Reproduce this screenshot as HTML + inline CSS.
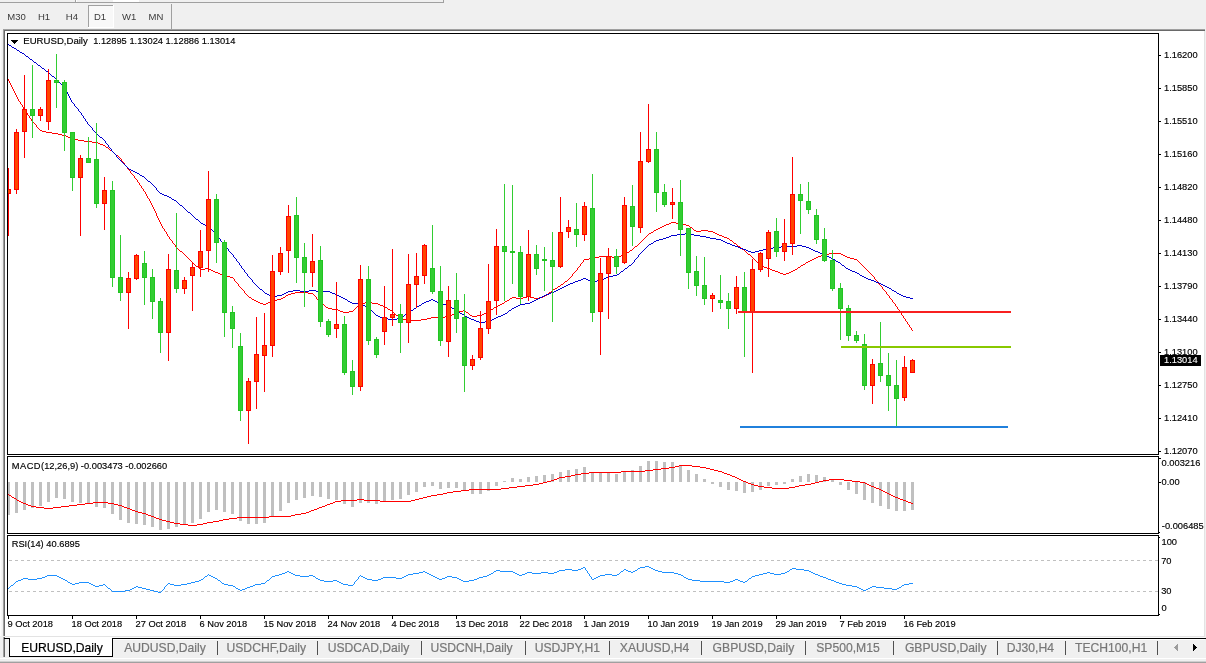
<!DOCTYPE html><html><head><meta charset="utf-8"><title>EURUSD,Daily</title><style>
html,body{margin:0;padding:0}
body{width:1206px;height:663px;overflow:hidden;background:#f0f0f0;position:relative;font-family:"Liberation Sans",sans-serif;}
.t{position:absolute;white-space:nowrap;line-height:1;color:#000;font-size:9.3px;-webkit-text-stroke:0.15px #000}
.tb{position:absolute;white-space:nowrap;line-height:1;color:#3a3a3a;font-size:9.5px;top:12px}
.ax{left:1164px}
.dt{top:620.4px}
.tab{position:absolute;white-space:nowrap;line-height:1;color:#777;font-size:12.15px;top:642.3px;-webkit-text-stroke:0.2px #777}
svg{position:absolute;left:0;top:0}

</style></head><body>
<svg width="1206" height="663" viewBox="0 0 1206 663" shape-rendering="crispEdges">
<rect x="0" y="2" width="444" height="1" fill="#a0a0a0"/>
<rect x="75" y="0" width="1" height="2" fill="#a0a0a0"/>
<rect x="76" y="0" width="1" height="2" fill="#fff"/>
<rect x="443" y="0" width="1" height="2" fill="#a0a0a0"/>
<rect x="113" y="0" width="26" height="2" fill="#fff"/>
<rect x="88" y="5" width="26" height="23" fill="#f8f8f8"/>
<rect x="88" y="5" width="25" height="1" fill="#a0a0a0"/>
<rect x="88" y="5" width="1" height="22" fill="#a0a0a0"/>
<rect x="113" y="5" width="1" height="23" fill="#fff"/>
<rect x="88" y="27" width="26" height="1" fill="#fff"/>
<rect x="171" y="4" width="1" height="25" fill="#a0a0a0"/>
<rect x="0" y="30" width="1" height="633" fill="#fcfcfc"/>
<rect x="1" y="30" width="1" height="633" fill="#f5f5f5"/>
<rect x="3" y="29" width="1202" height="1" fill="#a0a0a0"/>
<rect x="4" y="30" width="1201" height="1" fill="#696969"/>
<rect x="3" y="30" width="1" height="607" fill="#a0a0a0"/>
<rect x="4" y="31" width="1" height="606" fill="#696969"/>
<rect x="5" y="31" width="1199" height="606" fill="#fff"/>
<rect x="1204" y="31" width="1" height="606" fill="#e3e3e3"/>
<rect x="1159" y="55" width="2" height="1" fill="#000"/>
<rect x="1159" y="88" width="2" height="1" fill="#000"/>
<rect x="1159" y="121" width="2" height="1" fill="#000"/>
<rect x="1159" y="154" width="2" height="1" fill="#000"/>
<rect x="1159" y="187" width="2" height="1" fill="#000"/>
<rect x="1159" y="220" width="2" height="1" fill="#000"/>
<rect x="1159" y="253" width="2" height="1" fill="#000"/>
<rect x="1159" y="286" width="2" height="1" fill="#000"/>
<rect x="1159" y="319" width="2" height="1" fill="#000"/>
<rect x="1159" y="352" width="2" height="1" fill="#000"/>
<rect x="1159" y="385" width="2" height="1" fill="#000"/>
<rect x="1159" y="418" width="2" height="1" fill="#000"/>
<rect x="1159" y="451" width="2" height="1" fill="#000"/>
<rect x="1159" y="458" width="2" height="1" fill="#000"/>
<rect x="1159" y="482" width="2" height="1" fill="#000"/>
<rect x="1159" y="532" width="1" height="1" fill="#000"/>
<rect x="1159" y="537" width="1" height="1" fill="#000"/>
<rect x="1159" y="614" width="1" height="1" fill="#000"/>
<rect x="8" y="616" width="1" height="3" fill="#000"/>
<rect x="72" y="616" width="1" height="3" fill="#000"/>
<rect x="136" y="616" width="1" height="3" fill="#000"/>
<rect x="200" y="616" width="1" height="3" fill="#000"/>
<rect x="264" y="616" width="1" height="3" fill="#000"/>
<rect x="328" y="616" width="1" height="3" fill="#000"/>
<rect x="392" y="616" width="1" height="3" fill="#000"/>
<rect x="456" y="616" width="1" height="3" fill="#000"/>
<rect x="520" y="616" width="1" height="3" fill="#000"/>
<rect x="584" y="616" width="1" height="3" fill="#000"/>
<rect x="648" y="616" width="1" height="3" fill="#000"/>
<rect x="712" y="616" width="1" height="3" fill="#000"/>
<rect x="776" y="616" width="1" height="3" fill="#000"/>
<rect x="840" y="616" width="1" height="3" fill="#000"/>
<rect x="904" y="616" width="1" height="3" fill="#000"/>
<line x1="9" y1="560.5" x2="1158" y2="560.5" stroke="#c0c0c0" stroke-width="1" stroke-dasharray="3 3"/>
<line x1="9" y1="591.5" x2="1158" y2="591.5" stroke="#c0c0c0" stroke-width="1" stroke-dasharray="3 3"/>
<rect x="7" y="482" width="3" height="33" fill="#c0c0c0"/>
<rect x="15" y="482" width="3" height="31" fill="#c0c0c0"/>
<rect x="23" y="482" width="3" height="28" fill="#c0c0c0"/>
<rect x="31" y="482" width="3" height="26" fill="#c0c0c0"/>
<rect x="39" y="482" width="3" height="24" fill="#c0c0c0"/>
<rect x="47" y="482" width="3" height="20" fill="#c0c0c0"/>
<rect x="55" y="482" width="3" height="16" fill="#c0c0c0"/>
<rect x="63" y="482" width="3" height="17" fill="#c0c0c0"/>
<rect x="71" y="482" width="3" height="20" fill="#c0c0c0"/>
<rect x="79" y="482" width="3" height="21" fill="#c0c0c0"/>
<rect x="87" y="482" width="3" height="22" fill="#c0c0c0"/>
<rect x="95" y="482" width="3" height="25" fill="#c0c0c0"/>
<rect x="103" y="482" width="3" height="26" fill="#c0c0c0"/>
<rect x="111" y="482" width="3" height="32" fill="#c0c0c0"/>
<rect x="119" y="482" width="3" height="38" fill="#c0c0c0"/>
<rect x="127" y="482" width="3" height="41" fill="#c0c0c0"/>
<rect x="135" y="482" width="3" height="42" fill="#c0c0c0"/>
<rect x="143" y="482" width="3" height="43" fill="#c0c0c0"/>
<rect x="151" y="482" width="3" height="45" fill="#c0c0c0"/>
<rect x="159" y="482" width="3" height="48" fill="#c0c0c0"/>
<rect x="167" y="482" width="3" height="47" fill="#c0c0c0"/>
<rect x="175" y="482" width="3" height="45" fill="#c0c0c0"/>
<rect x="183" y="482" width="3" height="43" fill="#c0c0c0"/>
<rect x="191" y="482" width="3" height="41" fill="#c0c0c0"/>
<rect x="199" y="482" width="3" height="37" fill="#c0c0c0"/>
<rect x="207" y="482" width="3" height="30" fill="#c0c0c0"/>
<rect x="215" y="482" width="3" height="28" fill="#c0c0c0"/>
<rect x="223" y="482" width="3" height="30" fill="#c0c0c0"/>
<rect x="231" y="482" width="3" height="32" fill="#c0c0c0"/>
<rect x="239" y="482" width="3" height="39" fill="#c0c0c0"/>
<rect x="247" y="482" width="3" height="42" fill="#c0c0c0"/>
<rect x="255" y="482" width="3" height="42" fill="#c0c0c0"/>
<rect x="263" y="482" width="3" height="41" fill="#c0c0c0"/>
<rect x="271" y="482" width="3" height="34" fill="#c0c0c0"/>
<rect x="279" y="482" width="3" height="29" fill="#c0c0c0"/>
<rect x="287" y="482" width="3" height="21" fill="#c0c0c0"/>
<rect x="295" y="482" width="3" height="18" fill="#c0c0c0"/>
<rect x="303" y="482" width="3" height="16" fill="#c0c0c0"/>
<rect x="311" y="482" width="3" height="14" fill="#c0c0c0"/>
<rect x="319" y="482" width="3" height="15" fill="#c0c0c0"/>
<rect x="327" y="482" width="3" height="17" fill="#c0c0c0"/>
<rect x="335" y="482" width="3" height="18" fill="#c0c0c0"/>
<rect x="343" y="482" width="3" height="22" fill="#c0c0c0"/>
<rect x="351" y="482" width="3" height="25" fill="#c0c0c0"/>
<rect x="359" y="482" width="3" height="21" fill="#c0c0c0"/>
<rect x="367" y="482" width="3" height="21" fill="#c0c0c0"/>
<rect x="375" y="482" width="3" height="22" fill="#c0c0c0"/>
<rect x="383" y="482" width="3" height="19" fill="#c0c0c0"/>
<rect x="391" y="482" width="3" height="18" fill="#c0c0c0"/>
<rect x="399" y="482" width="3" height="17" fill="#c0c0c0"/>
<rect x="407" y="482" width="3" height="13" fill="#c0c0c0"/>
<rect x="415" y="482" width="3" height="10" fill="#c0c0c0"/>
<rect x="423" y="482" width="3" height="5" fill="#c0c0c0"/>
<rect x="431" y="482" width="3" height="4" fill="#c0c0c0"/>
<rect x="439" y="482" width="3" height="7" fill="#c0c0c0"/>
<rect x="447" y="482" width="3" height="6" fill="#c0c0c0"/>
<rect x="455" y="482" width="3" height="6" fill="#c0c0c0"/>
<rect x="463" y="482" width="3" height="9" fill="#c0c0c0"/>
<rect x="471" y="482" width="3" height="12" fill="#c0c0c0"/>
<rect x="479" y="482" width="3" height="12" fill="#c0c0c0"/>
<rect x="487" y="482" width="3" height="9" fill="#c0c0c0"/>
<rect x="495" y="482" width="3" height="4" fill="#c0c0c0"/>
<rect x="503" y="481" width="3" height="1" fill="#c0c0c0"/>
<rect x="511" y="478" width="3" height="4" fill="#c0c0c0"/>
<rect x="519" y="479" width="3" height="3" fill="#c0c0c0"/>
<rect x="527" y="477" width="3" height="5" fill="#c0c0c0"/>
<rect x="535" y="476" width="3" height="6" fill="#c0c0c0"/>
<rect x="543" y="475" width="3" height="7" fill="#c0c0c0"/>
<rect x="551" y="474" width="3" height="8" fill="#c0c0c0"/>
<rect x="559" y="472" width="3" height="10" fill="#c0c0c0"/>
<rect x="567" y="470" width="3" height="12" fill="#c0c0c0"/>
<rect x="575" y="469" width="3" height="13" fill="#c0c0c0"/>
<rect x="583" y="467" width="3" height="15" fill="#c0c0c0"/>
<rect x="591" y="472" width="3" height="10" fill="#c0c0c0"/>
<rect x="599" y="473" width="3" height="9" fill="#c0c0c0"/>
<rect x="607" y="473" width="3" height="9" fill="#c0c0c0"/>
<rect x="615" y="474" width="3" height="8" fill="#c0c0c0"/>
<rect x="623" y="471" width="3" height="11" fill="#c0c0c0"/>
<rect x="631" y="470" width="3" height="12" fill="#c0c0c0"/>
<rect x="639" y="466" width="3" height="16" fill="#c0c0c0"/>
<rect x="647" y="461" width="3" height="21" fill="#c0c0c0"/>
<rect x="655" y="461" width="3" height="21" fill="#c0c0c0"/>
<rect x="663" y="462" width="3" height="20" fill="#c0c0c0"/>
<rect x="671" y="462" width="3" height="20" fill="#c0c0c0"/>
<rect x="679" y="465" width="3" height="17" fill="#c0c0c0"/>
<rect x="687" y="470" width="3" height="12" fill="#c0c0c0"/>
<rect x="695" y="474" width="3" height="8" fill="#c0c0c0"/>
<rect x="703" y="479" width="3" height="3" fill="#c0c0c0"/>
<rect x="711" y="482" width="3" height="2" fill="#c0c0c0"/>
<rect x="719" y="482" width="3" height="5" fill="#c0c0c0"/>
<rect x="727" y="482" width="3" height="8" fill="#c0c0c0"/>
<rect x="735" y="482" width="3" height="9" fill="#c0c0c0"/>
<rect x="743" y="482" width="3" height="11" fill="#c0c0c0"/>
<rect x="751" y="482" width="3" height="10" fill="#c0c0c0"/>
<rect x="759" y="482" width="3" height="8" fill="#c0c0c0"/>
<rect x="767" y="482" width="3" height="4" fill="#c0c0c0"/>
<rect x="775" y="482" width="3" height="3" fill="#c0c0c0"/>
<rect x="783" y="482" width="3" height="2" fill="#c0c0c0"/>
<rect x="791" y="479" width="3" height="3" fill="#c0c0c0"/>
<rect x="799" y="476" width="3" height="6" fill="#c0c0c0"/>
<rect x="807" y="474" width="3" height="8" fill="#c0c0c0"/>
<rect x="815" y="475" width="3" height="7" fill="#c0c0c0"/>
<rect x="823" y="477" width="3" height="5" fill="#c0c0c0"/>
<rect x="831" y="480" width="3" height="2" fill="#c0c0c0"/>
<rect x="839" y="482" width="3" height="3" fill="#c0c0c0"/>
<rect x="847" y="482" width="3" height="8" fill="#c0c0c0"/>
<rect x="855" y="482" width="3" height="12" fill="#c0c0c0"/>
<rect x="863" y="482" width="3" height="18" fill="#c0c0c0"/>
<rect x="871" y="482" width="3" height="21" fill="#c0c0c0"/>
<rect x="879" y="482" width="3" height="24" fill="#c0c0c0"/>
<rect x="887" y="482" width="3" height="27" fill="#c0c0c0"/>
<rect x="895" y="482" width="3" height="29" fill="#c0c0c0"/>
<rect x="903" y="482" width="3" height="29" fill="#c0c0c0"/>
<rect x="911" y="482" width="3" height="28" fill="#c0c0c0"/>
<path fill="#ff0000" d="M679 465h13v1h-13zM675 466h4v1h-4zM692 466h8v1h-8zM669 467h6v1h-6zM700 467h6v1h-6zM661 468h8v1h-8zM706 468h4v1h-4zM653 469h8v1h-8zM710 469h4v1h-4zM645 470h8v1h-8zM714 470h4v1h-4zM621 471h24v1h-24zM718 471h4v1h-4zM589 472h32v1h-32zM722 472h2v1h-2zM581 473h8v1h-8zM724 473h3v1h-3zM575 474h6v1h-6zM727 474h3v1h-3zM571 475h4v1h-4zM730 475h2v1h-2zM565 476h6v1h-6zM732 476h3v1h-3zM559 477h6v1h-6zM735 477h2v1h-2zM557 478h2v1h-2zM737 478h2v1h-2zM554 479h3v1h-3zM739 479h2v1h-2zM829 479h15v1h-15zM551 480h3v1h-3zM741 480h2v1h-2zM823 480h6v1h-6zM844 480h8v1h-8zM547 481h4v1h-4zM743 481h3v1h-3zM819 481h4v1h-4zM852 481h8v1h-8zM543 482h4v1h-4zM746 482h2v1h-2zM815 482h4v1h-4zM860 482h5v1h-5zM539 483h4v1h-4zM748 483h3v1h-3zM811 483h4v1h-4zM865 483h2v1h-2zM533 484h6v1h-6zM751 484h3v1h-3zM805 484h6v1h-6zM867 484h2v1h-2zM525 485h8v1h-8zM754 485h4v1h-4zM799 485h6v1h-6zM869 485h2v1h-2zM517 486h8v1h-8zM758 486h6v1h-6zM795 486h4v1h-4zM871 486h3v1h-3zM509 487h8v1h-8zM764 487h8v1h-8zM789 487h6v1h-6zM874 487h2v1h-2zM501 488h8v1h-8zM772 488h17v1h-17zM876 488h3v1h-3zM469 489h32v1h-32zM879 489h2v1h-2zM461 490h8v1h-8zM881 490h2v1h-2zM453 491h8v1h-8zM883 491h2v1h-2zM447 492h6v1h-6zM885 492h2v1h-2zM443 493h4v1h-4zM887 493h2v1h-2zM8 494h1v1h-1zM437 494h6v1h-6zM889 494h2v1h-2zM9 495h2v1h-2zM431 495h6v1h-6zM891 495h2v1h-2zM11 496h1v1h-1zM427 496h4v1h-4zM893 496h2v1h-2zM12 497h2v1h-2zM423 497h4v1h-4zM895 497h3v1h-3zM14 498h2v1h-2zM419 498h4v1h-4zM898 498h2v1h-2zM16 499h1v1h-1zM357 499h7v1h-7zM415 499h4v1h-4zM900 499h3v1h-3zM17 500h2v1h-2zM341 500h16v1h-16zM364 500h16v1h-16zM411 500h4v1h-4zM903 500h3v1h-3zM19 501h2v1h-2zM335 501h6v1h-6zM380 501h31v1h-31zM906 501h2v1h-2zM21 502h2v1h-2zM93 502h15v1h-15zM333 502h2v1h-2zM908 502h3v1h-3zM23 503h3v1h-3zM85 503h8v1h-8zM108 503h6v1h-6zM330 503h3v1h-3zM911 503h2v1h-2zM26 504h2v1h-2zM77 504h8v1h-8zM114 504h4v1h-4zM327 504h3v1h-3zM28 505h3v1h-3zM69 505h8v1h-8zM118 505h4v1h-4zM325 505h2v1h-2zM31 506h5v1h-5zM61 506h8v1h-8zM122 506h2v1h-2zM322 506h3v1h-3zM36 507h8v1h-8zM53 507h8v1h-8zM124 507h3v1h-3zM319 507h3v1h-3zM44 508h9v1h-9zM127 508h3v1h-3zM317 508h2v1h-2zM130 509h2v1h-2zM314 509h3v1h-3zM132 510h3v1h-3zM311 510h3v1h-3zM135 511h3v1h-3zM309 511h2v1h-2zM138 512h4v1h-4zM306 512h3v1h-3zM142 513h4v1h-4zM301 513h5v1h-5zM146 514h2v1h-2zM295 514h6v1h-6zM148 515h3v1h-3zM291 515h4v1h-4zM151 516h3v1h-3zM269 516h22v1h-22zM154 517h2v1h-2zM237 517h32v1h-32zM156 518h3v1h-3zM229 518h8v1h-8zM159 519h3v1h-3zM223 519h6v1h-6zM162 520h4v1h-4zM219 520h4v1h-4zM166 521h4v1h-4zM213 521h6v1h-6zM170 522h4v1h-4zM207 522h6v1h-6zM174 523h6v1h-6zM203 523h4v1h-4zM180 524h8v1h-8zM197 524h6v1h-6zM188 525h9v1h-9z"/>
<path fill="#1e90ff" d="M645 566h4v1h-4zM583 567h2v1h-2zM640 567h5v1h-5zM649 567h2v1h-2zM581 568h2v1h-2zM585 568h1v1h-1zM638 568h2v1h-2zM651 568h2v1h-2zM792 568h4v1h-4zM565 569h7v1h-7zM578 569h3v1h-3zM585 569h1v1h-1zM624 569h2v1h-2zM637 569h1v1h-1zM653 569h2v1h-2zM790 569h2v1h-2zM796 569h8v1h-8zM496 570h4v1h-4zM559 570h6v1h-6zM572 570h6v1h-6zM586 570h1v1h-1zM623 570h1v1h-1zM626 570h2v1h-2zM635 570h2v1h-2zM655 570h3v1h-3zM789 570h1v1h-1zM804 570h5v1h-5zM287 571h2v1h-2zM423 571h2v1h-2zM494 571h2v1h-2zM500 571h13v1h-13zM557 571h2v1h-2zM587 571h1v1h-1zM621 571h2v1h-2zM628 571h3v1h-3zM633 571h2v1h-2zM658 571h4v1h-4zM787 571h2v1h-2zM809 571h2v1h-2zM285 572h2v1h-2zM289 572h2v1h-2zM419 572h4v1h-4zM425 572h2v1h-2zM493 572h1v1h-1zM513 572h2v1h-2zM527 572h5v1h-5zM541 572h7v1h-7zM554 572h3v1h-3zM587 572h1v1h-1zM620 572h1v1h-1zM631 572h2v1h-2zM662 572h12v1h-12zM767 572h3v1h-3zM785 572h2v1h-2zM811 572h2v1h-2zM282 573h3v1h-3zM291 573h2v1h-2zM413 573h6v1h-6zM427 573h2v1h-2zM491 573h2v1h-2zM515 573h2v1h-2zM525 573h2v1h-2zM532 573h9v1h-9zM548 573h6v1h-6zM588 573h1v1h-1zM619 573h1v1h-1zM674 573h4v1h-4zM763 573h4v1h-4zM770 573h4v1h-4zM781 573h4v1h-4zM813 573h2v1h-2zM208 574h1v1h-1zM279 574h3v1h-3zM293 574h2v1h-2zM408 574h5v1h-5zM429 574h2v1h-2zM489 574h2v1h-2zM517 574h2v1h-2zM522 574h3v1h-3zM589 574h1v1h-1zM605 574h7v1h-7zM617 574h2v1h-2zM678 574h3v1h-3zM759 574h4v1h-4zM774 574h7v1h-7zM815 574h3v1h-3zM47 575h10v1h-10zM207 575h1v1h-1zM209 575h2v1h-2zM275 575h4v1h-4zM295 575h5v1h-5zM309 575h4v1h-4zM360 575h1v1h-1zM406 575h2v1h-2zM431 575h2v1h-2zM487 575h2v1h-2zM519 575h3v1h-3zM589 575h1v1h-1zM600 575h5v1h-5zM612 575h5v1h-5zM681 575h2v1h-2zM755 575h4v1h-4zM818 575h2v1h-2zM45 576h2v1h-2zM57 576h2v1h-2zM205 576h2v1h-2zM211 576h2v1h-2zM272 576h3v1h-3zM300 576h9v1h-9zM313 576h2v1h-2zM359 576h1v1h-1zM361 576h2v1h-2zM404 576h2v1h-2zM433 576h2v1h-2zM447 576h5v1h-5zM483 576h4v1h-4zM590 576h1v1h-1zM598 576h2v1h-2zM683 576h1v1h-1zM752 576h3v1h-3zM820 576h3v1h-3zM42 577h3v1h-3zM59 577h2v1h-2zM204 577h1v1h-1zM213 577h2v1h-2zM271 577h1v1h-1zM315 577h1v1h-1zM358 577h1v1h-1zM363 577h2v1h-2zM383 577h13v1h-13zM402 577h2v1h-2zM435 577h2v1h-2zM445 577h2v1h-2zM452 577h5v1h-5zM479 577h4v1h-4zM591 577h1v1h-1zM596 577h2v1h-2zM684 577h2v1h-2zM751 577h1v1h-1zM823 577h3v1h-3zM23 578h5v1h-5zM37 578h5v1h-5zM61 578h2v1h-2zM203 578h1v1h-1zM215 578h2v1h-2zM270 578h1v1h-1zM316 578h2v1h-2zM358 578h1v1h-1zM365 578h2v1h-2zM381 578h2v1h-2zM396 578h6v1h-6zM437 578h2v1h-2zM442 578h3v1h-3zM457 578h2v1h-2zM477 578h2v1h-2zM591 578h1v1h-1zM594 578h2v1h-2zM686 578h2v1h-2zM749 578h2v1h-2zM826 578h2v1h-2zM21 579h2v1h-2zM28 579h9v1h-9zM63 579h2v1h-2zM201 579h2v1h-2zM217 579h1v1h-1zM269 579h1v1h-1zM318 579h2v1h-2zM357 579h1v1h-1zM367 579h5v1h-5zM378 579h3v1h-3zM439 579h3v1h-3zM459 579h2v1h-2zM474 579h3v1h-3zM592 579h2v1h-2zM688 579h4v1h-4zM735 579h3v1h-3zM748 579h1v1h-1zM828 579h3v1h-3zM18 580h3v1h-3zM65 580h2v1h-2zM199 580h2v1h-2zM218 580h2v1h-2zM267 580h2v1h-2zM320 580h4v1h-4zM333 580h4v1h-4zM356 580h1v1h-1zM372 580h6v1h-6zM461 580h2v1h-2zM469 580h5v1h-5zM692 580h8v1h-8zM733 580h2v1h-2zM738 580h2v1h-2zM747 580h1v1h-1zM831 580h3v1h-3zM16 581h2v1h-2zM67 581h1v1h-1zM195 581h4v1h-4zM220 581h1v1h-1zM266 581h1v1h-1zM324 581h9v1h-9zM337 581h2v1h-2zM355 581h1v1h-1zM463 581h6v1h-6zM700 581h24v1h-24zM730 581h3v1h-3zM740 581h3v1h-3zM745 581h2v1h-2zM834 581h2v1h-2zM15 582h1v1h-1zM68 582h2v1h-2zM79 582h10v1h-10zM191 582h4v1h-4zM221 582h1v1h-1zM265 582h1v1h-1zM339 582h2v1h-2zM354 582h1v1h-1zM724 582h6v1h-6zM743 582h2v1h-2zM836 582h3v1h-3zM14 583h1v1h-1zM70 583h2v1h-2zM75 583h4v1h-4zM89 583h2v1h-2zM168 583h2v1h-2zM187 583h4v1h-4zM222 583h2v1h-2zM261 583h4v1h-4zM341 583h2v1h-2zM354 583h1v1h-1zM839 583h3v1h-3zM909 583h4v1h-4zM13 584h1v1h-1zM72 584h3v1h-3zM91 584h2v1h-2zM103 584h2v1h-2zM167 584h1v1h-1zM170 584h4v1h-4zM181 584h6v1h-6zM224 584h4v1h-4zM255 584h6v1h-6zM343 584h5v1h-5zM353 584h1v1h-1zM842 584h4v1h-4zM904 584h5v1h-5zM11 585h2v1h-2zM93 585h2v1h-2zM99 585h4v1h-4zM105 585h1v1h-1zM166 585h1v1h-1zM174 585h7v1h-7zM228 585h5v1h-5zM253 585h2v1h-2zM348 585h5v1h-5zM846 585h6v1h-6zM902 585h2v1h-2zM10 586h1v1h-1zM95 586h4v1h-4zM106 586h1v1h-1zM136 586h2v1h-2zM165 586h1v1h-1zM233 586h2v1h-2zM250 586h3v1h-3zM852 586h5v1h-5zM872 586h4v1h-4zM901 586h1v1h-1zM9 587h1v1h-1zM107 587h1v1h-1zM134 587h2v1h-2zM138 587h4v1h-4zM164 587h1v1h-1zM235 587h1v1h-1zM247 587h3v1h-3zM857 587h2v1h-2zM870 587h2v1h-2zM876 587h8v1h-8zM899 587h2v1h-2zM8 588h1v1h-1zM108 588h2v1h-2zM132 588h2v1h-2zM142 588h4v1h-4zM164 588h1v1h-1zM236 588h2v1h-2zM245 588h2v1h-2zM859 588h2v1h-2zM868 588h2v1h-2zM884 588h8v1h-8zM897 588h2v1h-2zM110 589h1v1h-1zM130 589h2v1h-2zM146 589h4v1h-4zM163 589h1v1h-1zM238 589h2v1h-2zM242 589h3v1h-3zM861 589h2v1h-2zM866 589h2v1h-2zM892 589h5v1h-5zM111 590h1v1h-1zM125 590h5v1h-5zM150 590h4v1h-4zM162 590h1v1h-1zM240 590h2v1h-2zM863 590h3v1h-3zM112 591h13v1h-13zM154 591h4v1h-4zM161 591h1v1h-1zM158 592h3v1h-3z"/>
<path fill="#ff0000" d="M8 79h1v1h-1zM8 80h1v1h-1zM9 81h1v1h-1zM9 82h1v1h-1zM10 83h1v1h-1zM10 84h1v1h-1zM11 85h1v1h-1zM11 86h1v1h-1zM12 87h1v1h-1zM12 88h1v1h-1zM13 89h1v1h-1zM13 90h1v1h-1zM14 91h1v1h-1zM14 92h1v1h-1zM15 93h1v1h-1zM15 94h1v1h-1zM16 95h1v1h-1zM16 96h1v1h-1zM17 97h1v1h-1zM17 98h1v1h-1zM18 99h1v1h-1zM18 100h1v1h-1zM19 101h1v1h-1zM20 102h1v1h-1zM20 103h1v1h-1zM21 104h1v1h-1zM22 105h1v1h-1zM22 106h1v1h-1zM23 107h1v1h-1zM23 108h1v1h-1zM24 109h1v1h-1zM25 110h1v1h-1zM25 111h1v1h-1zM26 112h1v1h-1zM27 113h1v1h-1zM27 114h1v1h-1zM28 115h1v1h-1zM29 116h1v1h-1zM29 117h1v1h-1zM30 118h1v1h-1zM31 119h1v1h-1zM31 120h1v1h-1zM32 121h1v1h-1zM33 122h1v1h-1zM34 123h1v1h-1zM35 124h1v1h-1zM36 125h1v1h-1zM36 126h1v1h-1zM37 127h1v1h-1zM38 128h1v1h-1zM39 129h1v1h-1zM40 130h2v1h-2zM42 131h4v1h-4zM46 132h6v1h-6zM52 133h6v1h-6zM58 134h4v1h-4zM62 135h4v1h-4zM66 136h2v1h-2zM68 137h3v1h-3zM71 138h3v1h-3zM74 139h4v1h-4zM78 140h6v1h-6zM84 141h8v1h-8zM92 142h6v1h-6zM98 143h2v1h-2zM100 144h3v1h-3zM103 145h2v1h-2zM105 146h1v1h-1zM106 147h2v1h-2zM108 148h1v1h-1zM109 149h1v1h-1zM110 150h2v1h-2zM112 151h1v1h-1zM113 152h1v1h-1zM114 153h1v1h-1zM115 154h1v1h-1zM116 155h2v1h-2zM118 156h1v1h-1zM119 157h1v1h-1zM120 158h1v1h-1zM121 159h1v1h-1zM121 160h1v1h-1zM122 161h1v1h-1zM123 162h1v1h-1zM124 163h1v1h-1zM124 164h1v1h-1zM125 165h1v1h-1zM126 166h1v1h-1zM127 167h1v1h-1zM127 168h1v1h-1zM128 169h1v1h-1zM129 170h1v1h-1zM130 171h1v1h-1zM130 172h1v1h-1zM131 173h1v1h-1zM132 174h1v1h-1zM133 175h1v1h-1zM134 176h1v1h-1zM134 177h1v1h-1zM135 178h1v1h-1zM136 179h1v1h-1zM137 180h1v1h-1zM137 181h1v1h-1zM138 182h1v1h-1zM139 183h1v1h-1zM139 184h1v1h-1zM140 185h1v1h-1zM141 186h1v1h-1zM141 187h1v1h-1zM142 188h1v1h-1zM143 189h1v1h-1zM143 190h1v1h-1zM144 191h1v1h-1zM145 192h1v1h-1zM145 193h1v1h-1zM146 194h1v1h-1zM146 195h1v1h-1zM147 196h1v1h-1zM147 197h1v1h-1zM148 198h1v1h-1zM149 199h1v1h-1zM149 200h1v1h-1zM150 201h1v1h-1zM150 202h1v1h-1zM151 203h1v1h-1zM151 204h1v1h-1zM152 205h1v1h-1zM152 206h1v1h-1zM153 207h1v1h-1zM153 208h1v1h-1zM154 209h1v1h-1zM154 210h1v1h-1zM155 211h1v1h-1zM155 212h1v1h-1zM156 213h1v1h-1zM156 214h1v1h-1zM156 215h1v1h-1zM157 216h1v1h-1zM157 217h1v1h-1zM158 218h1v1h-1zM158 219h1v1h-1zM159 220h1v1h-1zM159 221h1v1h-1zM160 222h1v1h-1zM671 222h5v1h-5zM160 223h1v1h-1zM669 223h2v1h-2zM676 223h6v1h-6zM161 224h1v1h-1zM666 224h3v1h-3zM682 224h4v1h-4zM161 225h1v1h-1zM664 225h2v1h-2zM686 225h3v1h-3zM162 226h1v1h-1zM662 226h2v1h-2zM689 226h1v1h-1zM162 227h1v1h-1zM660 227h2v1h-2zM690 227h2v1h-2zM163 228h1v1h-1zM658 228h2v1h-2zM692 228h1v1h-1zM164 229h1v1h-1zM656 229h2v1h-2zM693 229h1v1h-1zM164 230h1v1h-1zM654 230h2v1h-2zM694 230h2v1h-2zM701 230h7v1h-7zM165 231h1v1h-1zM653 231h1v1h-1zM696 231h5v1h-5zM708 231h5v1h-5zM166 232h1v1h-1zM651 232h2v1h-2zM713 232h2v1h-2zM166 233h1v1h-1zM649 233h2v1h-2zM715 233h2v1h-2zM167 234h1v1h-1zM648 234h1v1h-1zM717 234h2v1h-2zM167 235h1v1h-1zM647 235h1v1h-1zM719 235h3v1h-3zM168 236h1v1h-1zM646 236h1v1h-1zM722 236h2v1h-2zM169 237h1v1h-1zM645 237h1v1h-1zM724 237h3v1h-3zM169 238h1v1h-1zM644 238h1v1h-1zM727 238h2v1h-2zM170 239h1v1h-1zM643 239h1v1h-1zM729 239h1v1h-1zM171 240h1v1h-1zM642 240h1v1h-1zM730 240h2v1h-2zM172 241h1v1h-1zM641 241h1v1h-1zM732 241h1v1h-1zM172 242h1v1h-1zM640 242h1v1h-1zM733 242h1v1h-1zM173 243h1v1h-1zM639 243h1v1h-1zM734 243h2v1h-2zM174 244h1v1h-1zM638 244h1v1h-1zM736 244h1v1h-1zM175 245h1v1h-1zM637 245h1v1h-1zM737 245h1v1h-1zM175 246h1v1h-1zM635 246h2v1h-2zM738 246h2v1h-2zM176 247h1v1h-1zM634 247h1v1h-1zM740 247h1v1h-1zM177 248h1v1h-1zM633 248h1v1h-1zM741 248h1v1h-1zM178 249h1v1h-1zM632 249h1v1h-1zM742 249h2v1h-2zM179 250h1v1h-1zM630 250h2v1h-2zM744 250h1v1h-1zM180 251h2v1h-2zM629 251h1v1h-1zM745 251h1v1h-1zM182 252h1v1h-1zM627 252h2v1h-2zM746 252h1v1h-1zM183 253h1v1h-1zM625 253h2v1h-2zM747 253h1v1h-1zM829 253h12v1h-12zM184 254h1v1h-1zM623 254h2v1h-2zM748 254h2v1h-2zM823 254h6v1h-6zM841 254h2v1h-2zM185 255h1v1h-1zM621 255h2v1h-2zM750 255h1v1h-1zM821 255h2v1h-2zM843 255h2v1h-2zM186 256h1v1h-1zM599 256h13v1h-13zM618 256h3v1h-3zM751 256h1v1h-1zM818 256h3v1h-3zM845 256h2v1h-2zM187 257h1v1h-1zM595 257h4v1h-4zM612 257h6v1h-6zM752 257h1v1h-1zM816 257h2v1h-2zM847 257h3v1h-3zM188 258h1v1h-1zM589 258h6v1h-6zM753 258h1v1h-1zM814 258h2v1h-2zM850 258h4v1h-4zM189 259h1v1h-1zM584 259h5v1h-5zM754 259h1v1h-1zM812 259h2v1h-2zM854 259h3v1h-3zM190 260h1v1h-1zM583 260h1v1h-1zM755 260h1v1h-1zM810 260h2v1h-2zM857 260h1v1h-1zM191 261h1v1h-1zM583 261h1v1h-1zM756 261h1v1h-1zM808 261h2v1h-2zM858 261h1v1h-1zM192 262h1v1h-1zM582 262h1v1h-1zM757 262h1v1h-1zM806 262h2v1h-2zM859 262h1v1h-1zM193 263h1v1h-1zM581 263h1v1h-1zM758 263h1v1h-1zM805 263h1v1h-1zM860 263h1v1h-1zM194 264h1v1h-1zM580 264h1v1h-1zM759 264h1v1h-1zM803 264h2v1h-2zM861 264h1v1h-1zM195 265h1v1h-1zM580 265h1v1h-1zM760 265h2v1h-2zM801 265h2v1h-2zM862 265h1v1h-1zM196 266h2v1h-2zM579 266h1v1h-1zM762 266h2v1h-2zM800 266h1v1h-1zM863 266h1v1h-1zM198 267h1v1h-1zM578 267h1v1h-1zM764 267h3v1h-3zM798 267h2v1h-2zM864 267h1v1h-1zM199 268h1v1h-1zM205 268h4v1h-4zM577 268h1v1h-1zM767 268h3v1h-3zM797 268h1v1h-1zM865 268h1v1h-1zM200 269h5v1h-5zM209 269h2v1h-2zM577 269h1v1h-1zM770 269h2v1h-2zM795 269h2v1h-2zM866 269h1v1h-1zM211 270h2v1h-2zM576 270h1v1h-1zM772 270h3v1h-3zM793 270h2v1h-2zM867 270h1v1h-1zM213 271h2v1h-2zM575 271h1v1h-1zM775 271h3v1h-3zM791 271h2v1h-2zM868 271h1v1h-1zM215 272h3v1h-3zM574 272h1v1h-1zM778 272h2v1h-2zM789 272h2v1h-2zM869 272h1v1h-1zM218 273h2v1h-2zM573 273h1v1h-1zM780 273h3v1h-3zM786 273h3v1h-3zM870 273h1v1h-1zM220 274h3v1h-3zM572 274h1v1h-1zM783 274h3v1h-3zM871 274h1v1h-1zM223 275h3v1h-3zM572 275h1v1h-1zM872 275h1v1h-1zM226 276h4v1h-4zM571 276h1v1h-1zM873 276h1v1h-1zM230 277h3v1h-3zM570 277h1v1h-1zM874 277h1v1h-1zM233 278h1v1h-1zM569 278h1v1h-1zM874 278h1v1h-1zM234 279h1v1h-1zM568 279h1v1h-1zM875 279h1v1h-1zM234 280h1v1h-1zM567 280h1v1h-1zM876 280h1v1h-1zM235 281h1v1h-1zM565 281h2v1h-2zM877 281h1v1h-1zM236 282h1v1h-1zM564 282h1v1h-1zM878 282h1v1h-1zM237 283h1v1h-1zM563 283h1v1h-1zM878 283h1v1h-1zM238 284h1v1h-1zM561 284h2v1h-2zM879 284h1v1h-1zM238 285h1v1h-1zM560 285h1v1h-1zM880 285h1v1h-1zM239 286h1v1h-1zM558 286h2v1h-2zM881 286h1v1h-1zM240 287h1v1h-1zM557 287h1v1h-1zM882 287h1v1h-1zM241 288h1v1h-1zM555 288h2v1h-2zM882 288h1v1h-1zM242 289h1v1h-1zM553 289h2v1h-2zM883 289h1v1h-1zM243 290h1v1h-1zM552 290h1v1h-1zM884 290h1v1h-1zM244 291h1v1h-1zM551 291h1v1h-1zM885 291h1v1h-1zM244 292h1v1h-1zM295 292h13v1h-13zM549 292h2v1h-2zM886 292h1v1h-1zM245 293h1v1h-1zM291 293h4v1h-4zM308 293h5v1h-5zM548 293h1v1h-1zM886 293h1v1h-1zM246 294h1v1h-1zM288 294h3v1h-3zM313 294h1v1h-1zM547 294h1v1h-1zM887 294h1v1h-1zM247 295h1v1h-1zM286 295h2v1h-2zM314 295h1v1h-1zM545 295h2v1h-2zM888 295h1v1h-1zM248 296h1v1h-1zM285 296h1v1h-1zM315 296h1v1h-1zM527 296h3v1h-3zM543 296h2v1h-2zM889 296h1v1h-1zM249 297h2v1h-2zM283 297h2v1h-2zM316 297h1v1h-1zM512 297h4v1h-4zM523 297h4v1h-4zM530 297h4v1h-4zM539 297h4v1h-4zM889 297h1v1h-1zM251 298h1v1h-1zM281 298h2v1h-2zM316 298h1v1h-1zM510 298h2v1h-2zM516 298h7v1h-7zM534 298h5v1h-5zM890 298h1v1h-1zM252 299h2v1h-2zM277 299h4v1h-4zM317 299h1v1h-1zM509 299h1v1h-1zM891 299h1v1h-1zM254 300h2v1h-2zM272 300h5v1h-5zM318 300h1v1h-1zM507 300h2v1h-2zM892 300h1v1h-1zM256 301h2v1h-2zM270 301h2v1h-2zM319 301h1v1h-1zM505 301h2v1h-2zM892 301h1v1h-1zM258 302h2v1h-2zM268 302h2v1h-2zM320 302h1v1h-1zM365 302h7v1h-7zM504 302h1v1h-1zM893 302h1v1h-1zM260 303h3v1h-3zM266 303h2v1h-2zM321 303h1v1h-1zM360 303h5v1h-5zM372 303h6v1h-6zM502 303h2v1h-2zM894 303h1v1h-1zM263 304h3v1h-3zM322 304h2v1h-2zM359 304h1v1h-1zM378 304h2v1h-2zM500 304h2v1h-2zM895 304h1v1h-1zM324 305h1v1h-1zM358 305h1v1h-1zM380 305h3v1h-3zM498 305h2v1h-2zM895 305h1v1h-1zM325 306h1v1h-1zM357 306h1v1h-1zM383 306h2v1h-2zM496 306h2v1h-2zM896 306h1v1h-1zM326 307h2v1h-2zM356 307h1v1h-1zM385 307h2v1h-2zM494 307h2v1h-2zM897 307h1v1h-1zM328 308h4v1h-4zM355 308h1v1h-1zM387 308h1v1h-1zM493 308h1v1h-1zM897 308h1v1h-1zM332 309h6v1h-6zM354 309h1v1h-1zM388 309h2v1h-2zM491 309h2v1h-2zM898 309h1v1h-1zM338 310h2v1h-2zM353 310h1v1h-1zM390 310h2v1h-2zM463 310h2v1h-2zM489 310h2v1h-2zM899 310h1v1h-1zM340 311h3v1h-3zM349 311h4v1h-4zM392 311h1v1h-1zM459 311h4v1h-4zM465 311h1v1h-1zM488 311h1v1h-1zM899 311h1v1h-1zM343 312h6v1h-6zM393 312h1v1h-1zM456 312h3v1h-3zM466 312h2v1h-2zM486 312h2v1h-2zM900 312h1v1h-1zM394 313h1v1h-1zM454 313h2v1h-2zM468 313h1v1h-1zM484 313h2v1h-2zM901 313h1v1h-1zM395 314h1v1h-1zM452 314h2v1h-2zM469 314h1v1h-1zM482 314h2v1h-2zM901 314h1v1h-1zM396 315h2v1h-2zM450 315h2v1h-2zM470 315h2v1h-2zM477 315h5v1h-5zM902 315h1v1h-1zM398 316h1v1h-1zM445 316h5v1h-5zM472 316h5v1h-5zM903 316h1v1h-1zM399 317h1v1h-1zM431 317h14v1h-14zM903 317h1v1h-1zM400 318h2v1h-2zM427 318h4v1h-4zM904 318h1v1h-1zM402 319h4v1h-4zM421 319h6v1h-6zM905 319h1v1h-1zM406 320h15v1h-15zM905 320h1v1h-1zM906 321h1v1h-1zM907 322h1v1h-1zM907 323h1v1h-1zM908 324h1v1h-1zM909 325h1v1h-1zM909 326h1v1h-1zM910 327h1v1h-1zM911 328h1v1h-1zM911 329h1v1h-1zM912 330h1v1h-1z"/>
<path fill="#0000cd" d="M8 44h1v1h-1zM9 45h2v1h-2zM11 46h1v1h-1zM12 47h2v1h-2zM14 48h2v1h-2zM16 49h1v1h-1zM17 50h2v1h-2zM19 51h1v1h-1zM20 52h2v1h-2zM22 53h2v1h-2zM24 54h1v1h-1zM25 55h1v1h-1zM26 56h2v1h-2zM28 57h1v1h-1zM29 58h1v1h-1zM30 59h2v1h-2zM32 60h1v1h-1zM33 61h1v1h-1zM34 62h2v1h-2zM36 63h1v1h-1zM37 64h1v1h-1zM38 65h2v1h-2zM40 66h1v1h-1zM41 67h1v1h-1zM42 68h2v1h-2zM44 69h1v1h-1zM45 70h1v1h-1zM46 71h2v1h-2zM48 72h1v1h-1zM49 73h1v1h-1zM50 74h1v1h-1zM51 75h1v1h-1zM52 76h2v1h-2zM54 77h1v1h-1zM55 78h1v1h-1zM56 79h1v1h-1zM57 80h1v1h-1zM58 81h1v1h-1zM59 82h1v1h-1zM60 83h1v1h-1zM61 84h1v1h-1zM62 85h1v1h-1zM63 86h1v1h-1zM64 87h1v1h-1zM65 88h1v1h-1zM65 89h1v1h-1zM66 90h1v1h-1zM66 91h1v1h-1zM67 92h1v1h-1zM67 93h1v1h-1zM68 94h1v1h-1zM68 95h1v1h-1zM69 96h1v1h-1zM69 97h1v1h-1zM70 98h1v1h-1zM70 99h1v1h-1zM71 100h1v1h-1zM71 101h1v1h-1zM72 102h1v1h-1zM73 103h1v1h-1zM74 104h1v1h-1zM74 105h1v1h-1zM75 106h1v1h-1zM76 107h1v1h-1zM77 108h1v1h-1zM78 109h1v1h-1zM78 110h1v1h-1zM79 111h1v1h-1zM80 112h1v1h-1zM81 113h1v1h-1zM81 114h1v1h-1zM82 115h1v1h-1zM83 116h1v1h-1zM83 117h1v1h-1zM84 118h1v1h-1zM85 119h1v1h-1zM85 120h1v1h-1zM86 121h1v1h-1zM87 122h1v1h-1zM87 123h1v1h-1zM88 124h1v1h-1zM89 125h1v1h-1zM90 126h1v1h-1zM91 127h1v1h-1zM92 128h1v1h-1zM92 129h1v1h-1zM93 130h1v1h-1zM94 131h1v1h-1zM95 132h1v1h-1zM96 133h1v1h-1zM97 134h1v1h-1zM98 135h1v1h-1zM99 136h1v1h-1zM100 137h2v1h-2zM102 138h1v1h-1zM103 139h1v1h-1zM104 140h1v1h-1zM105 141h1v1h-1zM105 142h1v1h-1zM106 143h1v1h-1zM107 144h1v1h-1zM108 145h1v1h-1zM108 146h1v1h-1zM109 147h1v1h-1zM110 148h1v1h-1zM111 149h1v1h-1zM111 150h1v1h-1zM112 151h1v1h-1zM113 152h1v1h-1zM114 153h1v1h-1zM115 154h1v1h-1zM116 155h1v1h-1zM116 156h1v1h-1zM117 157h1v1h-1zM118 158h1v1h-1zM119 159h1v1h-1zM120 160h1v1h-1zM121 161h1v1h-1zM122 162h1v1h-1zM123 163h1v1h-1zM124 164h1v1h-1zM125 165h1v1h-1zM126 166h1v1h-1zM127 167h1v1h-1zM128 168h1v1h-1zM129 169h2v1h-2zM131 170h2v1h-2zM133 171h2v1h-2zM135 172h2v1h-2zM137 173h2v1h-2zM139 174h1v1h-1zM140 175h2v1h-2zM142 176h2v1h-2zM144 177h1v1h-1zM145 178h1v1h-1zM146 179h1v1h-1zM147 180h1v1h-1zM148 181h2v1h-2zM150 182h1v1h-1zM151 183h1v1h-1zM152 184h1v1h-1zM153 185h1v1h-1zM154 186h1v1h-1zM155 187h1v1h-1zM156 188h1v1h-1zM156 189h1v1h-1zM157 190h1v1h-1zM158 191h1v1h-1zM159 192h1v1h-1zM160 193h2v1h-2zM162 194h2v1h-2zM164 195h3v1h-3zM167 196h2v1h-2zM169 197h2v1h-2zM171 198h1v1h-1zM172 199h2v1h-2zM174 200h2v1h-2zM176 201h1v1h-1zM177 202h1v1h-1zM178 203h1v1h-1zM179 204h1v1h-1zM180 205h2v1h-2zM182 206h1v1h-1zM183 207h1v1h-1zM184 208h1v1h-1zM185 209h1v1h-1zM186 210h1v1h-1zM187 211h1v1h-1zM188 212h2v1h-2zM190 213h1v1h-1zM191 214h1v1h-1zM192 215h1v1h-1zM193 216h1v1h-1zM194 217h1v1h-1zM195 218h1v1h-1zM196 219h2v1h-2zM198 220h1v1h-1zM199 221h1v1h-1zM200 222h1v1h-1zM201 223h2v1h-2zM203 224h2v1h-2zM205 225h2v1h-2zM207 226h2v1h-2zM209 227h1v1h-1zM210 228h1v1h-1zM211 229h1v1h-1zM212 230h1v1h-1zM213 231h1v1h-1zM214 232h1v1h-1zM215 233h1v1h-1zM685 233h5v1h-5zM216 234h1v1h-1zM677 234h8v1h-8zM690 234h4v1h-4zM217 235h1v1h-1zM671 235h6v1h-6zM694 235h6v1h-6zM217 236h1v1h-1zM669 236h2v1h-2zM700 236h6v1h-6zM218 237h1v1h-1zM666 237h3v1h-3zM706 237h4v1h-4zM219 238h1v1h-1zM663 238h3v1h-3zM710 238h6v1h-6zM220 239h1v1h-1zM659 239h4v1h-4zM716 239h5v1h-5zM220 240h1v1h-1zM656 240h3v1h-3zM721 240h2v1h-2zM221 241h1v1h-1zM654 241h2v1h-2zM723 241h2v1h-2zM222 242h1v1h-1zM653 242h1v1h-1zM725 242h2v1h-2zM223 243h1v1h-1zM651 243h2v1h-2zM727 243h3v1h-3zM223 244h1v1h-1zM649 244h2v1h-2zM730 244h2v1h-2zM224 245h1v1h-1zM648 245h1v1h-1zM732 245h3v1h-3zM797 245h5v1h-5zM225 246h1v1h-1zM647 246h1v1h-1zM735 246h3v1h-3zM781 246h16v1h-16zM802 246h4v1h-4zM226 247h1v1h-1zM646 247h1v1h-1zM738 247h2v1h-2zM773 247h8v1h-8zM806 247h3v1h-3zM227 248h1v1h-1zM645 248h1v1h-1zM740 248h3v1h-3zM767 248h6v1h-6zM809 248h2v1h-2zM228 249h1v1h-1zM644 249h1v1h-1zM743 249h3v1h-3zM763 249h4v1h-4zM811 249h2v1h-2zM228 250h1v1h-1zM643 250h1v1h-1zM746 250h2v1h-2zM759 250h4v1h-4zM813 250h2v1h-2zM229 251h1v1h-1zM642 251h1v1h-1zM748 251h3v1h-3zM755 251h4v1h-4zM815 251h3v1h-3zM230 252h1v1h-1zM641 252h1v1h-1zM751 252h4v1h-4zM818 252h2v1h-2zM231 253h1v1h-1zM640 253h1v1h-1zM820 253h3v1h-3zM232 254h1v1h-1zM639 254h1v1h-1zM823 254h2v1h-2zM233 255h1v1h-1zM638 255h1v1h-1zM825 255h2v1h-2zM233 256h1v1h-1zM638 256h1v1h-1zM827 256h2v1h-2zM234 257h1v1h-1zM637 257h1v1h-1zM829 257h2v1h-2zM235 258h1v1h-1zM636 258h1v1h-1zM831 258h2v1h-2zM236 259h1v1h-1zM635 259h1v1h-1zM833 259h2v1h-2zM236 260h1v1h-1zM634 260h1v1h-1zM835 260h1v1h-1zM237 261h1v1h-1zM634 261h1v1h-1zM836 261h2v1h-2zM238 262h1v1h-1zM633 262h1v1h-1zM838 262h2v1h-2zM239 263h1v1h-1zM632 263h1v1h-1zM840 263h1v1h-1zM239 264h1v1h-1zM631 264h1v1h-1zM841 264h1v1h-1zM240 265h1v1h-1zM629 265h2v1h-2zM842 265h2v1h-2zM241 266h1v1h-1zM628 266h1v1h-1zM844 266h1v1h-1zM241 267h1v1h-1zM627 267h1v1h-1zM845 267h1v1h-1zM242 268h1v1h-1zM625 268h2v1h-2zM846 268h2v1h-2zM243 269h1v1h-1zM624 269h1v1h-1zM848 269h2v1h-2zM244 270h1v1h-1zM623 270h1v1h-1zM850 270h2v1h-2zM244 271h1v1h-1zM621 271h2v1h-2zM852 271h3v1h-3zM245 272h1v1h-1zM620 272h1v1h-1zM855 272h2v1h-2zM246 273h1v1h-1zM619 273h1v1h-1zM857 273h2v1h-2zM247 274h1v1h-1zM617 274h2v1h-2zM859 274h1v1h-1zM247 275h1v1h-1zM613 275h4v1h-4zM860 275h2v1h-2zM248 276h1v1h-1zM608 276h5v1h-5zM862 276h2v1h-2zM249 277h1v1h-1zM606 277h2v1h-2zM864 277h2v1h-2zM250 278h1v1h-1zM583 278h3v1h-3zM604 278h2v1h-2zM866 278h2v1h-2zM251 279h1v1h-1zM581 279h2v1h-2zM586 279h2v1h-2zM602 279h2v1h-2zM868 279h3v1h-3zM252 280h1v1h-1zM578 280h3v1h-3zM588 280h3v1h-3zM597 280h5v1h-5zM871 280h3v1h-3zM252 281h1v1h-1zM575 281h3v1h-3zM591 281h6v1h-6zM874 281h2v1h-2zM253 282h1v1h-1zM573 282h2v1h-2zM876 282h3v1h-3zM254 283h1v1h-1zM570 283h3v1h-3zM879 283h2v1h-2zM255 284h1v1h-1zM568 284h2v1h-2zM881 284h2v1h-2zM256 285h1v1h-1zM566 285h2v1h-2zM883 285h2v1h-2zM257 286h1v1h-1zM564 286h2v1h-2zM885 286h2v1h-2zM258 287h1v1h-1zM562 287h2v1h-2zM887 287h2v1h-2zM259 288h1v1h-1zM560 288h2v1h-2zM889 288h2v1h-2zM260 289h2v1h-2zM558 289h2v1h-2zM891 289h1v1h-1zM262 290h1v1h-1zM293 290h7v1h-7zM309 290h7v1h-7zM556 290h2v1h-2zM892 290h2v1h-2zM263 291h1v1h-1zM288 291h5v1h-5zM300 291h9v1h-9zM316 291h14v1h-14zM554 291h2v1h-2zM894 291h2v1h-2zM264 292h1v1h-1zM286 292h2v1h-2zM330 292h2v1h-2zM551 292h3v1h-3zM896 292h1v1h-1zM265 293h2v1h-2zM284 293h2v1h-2zM332 293h3v1h-3zM549 293h2v1h-2zM897 293h2v1h-2zM267 294h2v1h-2zM282 294h2v1h-2zM335 294h2v1h-2zM546 294h3v1h-3zM899 294h2v1h-2zM269 295h2v1h-2zM277 295h5v1h-5zM337 295h2v1h-2zM544 295h2v1h-2zM901 295h2v1h-2zM271 296h6v1h-6zM339 296h2v1h-2zM542 296h2v1h-2zM903 296h3v1h-3zM341 297h2v1h-2zM540 297h2v1h-2zM906 297h4v1h-4zM343 298h2v1h-2zM538 298h2v1h-2zM910 298h3v1h-3zM345 299h2v1h-2zM431 299h2v1h-2zM536 299h2v1h-2zM347 300h1v1h-1zM429 300h2v1h-2zM433 300h2v1h-2zM534 300h2v1h-2zM348 301h2v1h-2zM426 301h3v1h-3zM435 301h2v1h-2zM532 301h2v1h-2zM350 302h2v1h-2zM424 302h2v1h-2zM437 302h2v1h-2zM530 302h2v1h-2zM352 303h9v1h-9zM422 303h2v1h-2zM439 303h3v1h-3zM525 303h5v1h-5zM361 304h2v1h-2zM421 304h1v1h-1zM442 304h4v1h-4zM520 304h5v1h-5zM363 305h2v1h-2zM419 305h2v1h-2zM446 305h3v1h-3zM518 305h2v1h-2zM365 306h2v1h-2zM417 306h2v1h-2zM449 306h2v1h-2zM516 306h2v1h-2zM367 307h2v1h-2zM416 307h1v1h-1zM451 307h1v1h-1zM514 307h2v1h-2zM369 308h1v1h-1zM414 308h2v1h-2zM452 308h2v1h-2zM512 308h2v1h-2zM370 309h1v1h-1zM413 309h1v1h-1zM454 309h2v1h-2zM511 309h1v1h-1zM371 310h1v1h-1zM411 310h2v1h-2zM456 310h1v1h-1zM509 310h2v1h-2zM372 311h1v1h-1zM409 311h2v1h-2zM457 311h2v1h-2zM508 311h1v1h-1zM373 312h1v1h-1zM408 312h1v1h-1zM459 312h1v1h-1zM507 312h1v1h-1zM374 313h1v1h-1zM407 313h1v1h-1zM460 313h2v1h-2zM505 313h2v1h-2zM375 314h1v1h-1zM405 314h2v1h-2zM462 314h2v1h-2zM503 314h2v1h-2zM376 315h2v1h-2zM404 315h1v1h-1zM464 315h1v1h-1zM501 315h2v1h-2zM378 316h2v1h-2zM403 316h1v1h-1zM465 316h2v1h-2zM498 316h3v1h-3zM380 317h3v1h-3zM401 317h2v1h-2zM467 317h2v1h-2zM496 317h2v1h-2zM383 318h5v1h-5zM397 318h4v1h-4zM469 318h2v1h-2zM494 318h2v1h-2zM388 319h9v1h-9zM471 319h3v1h-3zM492 319h2v1h-2zM474 320h2v1h-2zM490 320h2v1h-2zM476 321h3v1h-3zM485 321h5v1h-5zM479 322h6v1h-6z"/>
<rect x="8" y="168" width="1" height="68" fill="#ff0000"/>
<rect x="8" y="189" width="3" height="5" fill="#ff0000"/>
<rect x="8" y="190" width="2" height="3" fill="#ff4500"/>
<rect x="16" y="129" width="1" height="65" fill="#ff0000"/>
<rect x="14" y="132" width="5" height="58" fill="#ff0000"/>
<rect x="15" y="133" width="3" height="56" fill="#ff4500"/>
<rect x="24" y="75" width="1" height="83" fill="#ff0000"/>
<rect x="22" y="109" width="5" height="23" fill="#ff0000"/>
<rect x="23" y="110" width="3" height="21" fill="#ff4500"/>
<rect x="32" y="65" width="1" height="73" fill="#32cd32"/>
<rect x="30" y="109" width="5" height="7" fill="#22c422"/>
<rect x="31" y="110" width="3" height="5" fill="#32cd32"/>
<rect x="40" y="107" width="1" height="14" fill="#ff0000"/>
<rect x="38" y="109" width="5" height="7" fill="#ff0000"/>
<rect x="39" y="110" width="3" height="5" fill="#ff4500"/>
<rect x="48" y="69" width="1" height="61" fill="#ff0000"/>
<rect x="46" y="80" width="5" height="42" fill="#ff0000"/>
<rect x="47" y="81" width="3" height="40" fill="#ff4500"/>
<rect x="56" y="54" width="1" height="54" fill="#32cd32"/>
<rect x="54" y="80" width="5" height="3" fill="#22c422"/>
<rect x="55" y="81" width="3" height="1" fill="#32cd32"/>
<rect x="64" y="80" width="1" height="71" fill="#32cd32"/>
<rect x="62" y="82" width="5" height="51" fill="#22c422"/>
<rect x="63" y="83" width="3" height="49" fill="#32cd32"/>
<rect x="72" y="132" width="1" height="59" fill="#32cd32"/>
<rect x="70" y="132" width="5" height="46" fill="#22c422"/>
<rect x="71" y="133" width="3" height="44" fill="#32cd32"/>
<rect x="80" y="155" width="1" height="81" fill="#ff0000"/>
<rect x="78" y="158" width="5" height="20" fill="#ff0000"/>
<rect x="79" y="159" width="3" height="18" fill="#ff4500"/>
<rect x="88" y="137" width="1" height="26" fill="#32cd32"/>
<rect x="86" y="158" width="5" height="5" fill="#22c422"/>
<rect x="87" y="159" width="3" height="3" fill="#32cd32"/>
<rect x="96" y="123" width="1" height="85" fill="#32cd32"/>
<rect x="94" y="159" width="5" height="45" fill="#22c422"/>
<rect x="95" y="160" width="3" height="43" fill="#32cd32"/>
<rect x="104" y="177" width="1" height="53" fill="#ff0000"/>
<rect x="102" y="190" width="5" height="14" fill="#ff0000"/>
<rect x="103" y="191" width="3" height="12" fill="#ff4500"/>
<rect x="112" y="181" width="1" height="106" fill="#32cd32"/>
<rect x="110" y="190" width="5" height="88" fill="#22c422"/>
<rect x="111" y="191" width="3" height="86" fill="#32cd32"/>
<rect x="120" y="235" width="1" height="66" fill="#32cd32"/>
<rect x="118" y="277" width="5" height="16" fill="#22c422"/>
<rect x="119" y="278" width="3" height="14" fill="#32cd32"/>
<rect x="128" y="272" width="1" height="57" fill="#ff0000"/>
<rect x="126" y="278" width="5" height="15" fill="#ff0000"/>
<rect x="127" y="279" width="3" height="13" fill="#ff4500"/>
<rect x="136" y="254" width="1" height="26" fill="#ff0000"/>
<rect x="134" y="255" width="5" height="24" fill="#ff0000"/>
<rect x="135" y="256" width="3" height="22" fill="#ff4500"/>
<rect x="144" y="251" width="1" height="54" fill="#32cd32"/>
<rect x="142" y="263" width="5" height="15" fill="#22c422"/>
<rect x="143" y="264" width="3" height="13" fill="#32cd32"/>
<rect x="152" y="269" width="1" height="50" fill="#32cd32"/>
<rect x="150" y="277" width="5" height="25" fill="#22c422"/>
<rect x="151" y="278" width="3" height="23" fill="#32cd32"/>
<rect x="160" y="298" width="1" height="55" fill="#32cd32"/>
<rect x="158" y="301" width="5" height="32" fill="#22c422"/>
<rect x="159" y="302" width="3" height="30" fill="#32cd32"/>
<rect x="168" y="254" width="1" height="107" fill="#ff0000"/>
<rect x="166" y="269" width="5" height="64" fill="#ff0000"/>
<rect x="167" y="270" width="3" height="62" fill="#ff4500"/>
<rect x="176" y="213" width="1" height="80" fill="#32cd32"/>
<rect x="174" y="270" width="5" height="19" fill="#22c422"/>
<rect x="175" y="271" width="3" height="17" fill="#32cd32"/>
<rect x="184" y="277" width="1" height="17" fill="#ff0000"/>
<rect x="182" y="280" width="5" height="9" fill="#ff0000"/>
<rect x="183" y="281" width="3" height="7" fill="#ff4500"/>
<rect x="192" y="262" width="1" height="49" fill="#ff0000"/>
<rect x="190" y="267" width="5" height="9" fill="#ff0000"/>
<rect x="191" y="268" width="3" height="7" fill="#ff4500"/>
<rect x="200" y="230" width="1" height="47" fill="#ff0000"/>
<rect x="198" y="251" width="5" height="17" fill="#ff0000"/>
<rect x="199" y="252" width="3" height="15" fill="#ff4500"/>
<rect x="208" y="171" width="1" height="101" fill="#ff0000"/>
<rect x="206" y="199" width="5" height="52" fill="#ff0000"/>
<rect x="207" y="200" width="3" height="50" fill="#ff4500"/>
<rect x="216" y="194" width="1" height="69" fill="#32cd32"/>
<rect x="214" y="199" width="5" height="44" fill="#22c422"/>
<rect x="215" y="200" width="3" height="42" fill="#32cd32"/>
<rect x="224" y="240" width="1" height="97" fill="#32cd32"/>
<rect x="222" y="242" width="5" height="71" fill="#22c422"/>
<rect x="223" y="243" width="3" height="69" fill="#32cd32"/>
<rect x="232" y="306" width="1" height="42" fill="#32cd32"/>
<rect x="230" y="312" width="5" height="17" fill="#22c422"/>
<rect x="231" y="313" width="3" height="15" fill="#32cd32"/>
<rect x="240" y="333" width="1" height="88" fill="#32cd32"/>
<rect x="238" y="346" width="5" height="65" fill="#22c422"/>
<rect x="239" y="347" width="3" height="63" fill="#32cd32"/>
<rect x="248" y="378" width="1" height="66" fill="#ff0000"/>
<rect x="246" y="381" width="5" height="30" fill="#ff0000"/>
<rect x="247" y="382" width="3" height="28" fill="#ff4500"/>
<rect x="256" y="317" width="1" height="92" fill="#ff0000"/>
<rect x="254" y="354" width="5" height="28" fill="#ff0000"/>
<rect x="255" y="355" width="3" height="26" fill="#ff4500"/>
<rect x="264" y="313" width="1" height="79" fill="#ff0000"/>
<rect x="262" y="345" width="5" height="11" fill="#ff0000"/>
<rect x="263" y="346" width="3" height="9" fill="#ff4500"/>
<rect x="272" y="255" width="1" height="102" fill="#ff0000"/>
<rect x="270" y="271" width="5" height="75" fill="#ff0000"/>
<rect x="271" y="272" width="3" height="73" fill="#ff4500"/>
<rect x="280" y="247" width="1" height="28" fill="#ff0000"/>
<rect x="278" y="253" width="5" height="19" fill="#ff0000"/>
<rect x="279" y="254" width="3" height="17" fill="#ff4500"/>
<rect x="288" y="205" width="1" height="68" fill="#ff0000"/>
<rect x="286" y="216" width="5" height="35" fill="#ff0000"/>
<rect x="287" y="217" width="3" height="33" fill="#ff4500"/>
<rect x="296" y="197" width="1" height="86" fill="#32cd32"/>
<rect x="294" y="215" width="5" height="43" fill="#22c422"/>
<rect x="295" y="216" width="3" height="41" fill="#32cd32"/>
<rect x="304" y="243" width="1" height="64" fill="#32cd32"/>
<rect x="302" y="257" width="5" height="16" fill="#22c422"/>
<rect x="303" y="258" width="3" height="14" fill="#32cd32"/>
<rect x="312" y="234" width="1" height="53" fill="#ff0000"/>
<rect x="310" y="261" width="5" height="12" fill="#ff0000"/>
<rect x="311" y="262" width="3" height="10" fill="#ff4500"/>
<rect x="320" y="246" width="1" height="81" fill="#32cd32"/>
<rect x="318" y="260" width="5" height="62" fill="#22c422"/>
<rect x="319" y="261" width="3" height="60" fill="#32cd32"/>
<rect x="328" y="319" width="1" height="18" fill="#32cd32"/>
<rect x="326" y="321" width="5" height="14" fill="#22c422"/>
<rect x="327" y="322" width="3" height="12" fill="#32cd32"/>
<rect x="336" y="282" width="1" height="56" fill="#ff0000"/>
<rect x="334" y="324" width="5" height="5" fill="#ff0000"/>
<rect x="335" y="325" width="3" height="3" fill="#ff4500"/>
<rect x="344" y="316" width="1" height="59" fill="#32cd32"/>
<rect x="342" y="324" width="5" height="49" fill="#22c422"/>
<rect x="343" y="325" width="3" height="47" fill="#32cd32"/>
<rect x="352" y="360" width="1" height="35" fill="#32cd32"/>
<rect x="350" y="371" width="5" height="16" fill="#22c422"/>
<rect x="351" y="372" width="3" height="14" fill="#32cd32"/>
<rect x="360" y="265" width="1" height="126" fill="#ff0000"/>
<rect x="358" y="279" width="5" height="108" fill="#ff0000"/>
<rect x="359" y="280" width="3" height="106" fill="#ff4500"/>
<rect x="368" y="266" width="1" height="79" fill="#32cd32"/>
<rect x="366" y="279" width="5" height="62" fill="#22c422"/>
<rect x="367" y="280" width="3" height="60" fill="#32cd32"/>
<rect x="376" y="337" width="1" height="21" fill="#32cd32"/>
<rect x="374" y="339" width="5" height="16" fill="#22c422"/>
<rect x="375" y="340" width="3" height="14" fill="#32cd32"/>
<rect x="384" y="286" width="1" height="59" fill="#ff0000"/>
<rect x="382" y="317" width="5" height="15" fill="#ff0000"/>
<rect x="383" y="318" width="3" height="13" fill="#ff4500"/>
<rect x="392" y="249" width="1" height="77" fill="#ff0000"/>
<rect x="390" y="314" width="5" height="4" fill="#ff0000"/>
<rect x="391" y="315" width="3" height="2" fill="#ff4500"/>
<rect x="400" y="304" width="1" height="49" fill="#32cd32"/>
<rect x="398" y="314" width="5" height="9" fill="#22c422"/>
<rect x="399" y="315" width="3" height="7" fill="#32cd32"/>
<rect x="408" y="254" width="1" height="89" fill="#ff0000"/>
<rect x="406" y="284" width="5" height="39" fill="#ff0000"/>
<rect x="407" y="285" width="3" height="37" fill="#ff4500"/>
<rect x="416" y="253" width="1" height="55" fill="#ff0000"/>
<rect x="414" y="276" width="5" height="9" fill="#ff0000"/>
<rect x="415" y="277" width="3" height="7" fill="#ff4500"/>
<rect x="424" y="244" width="1" height="40" fill="#ff0000"/>
<rect x="422" y="245" width="5" height="31" fill="#ff0000"/>
<rect x="423" y="246" width="3" height="29" fill="#ff4500"/>
<rect x="432" y="225" width="1" height="69" fill="#32cd32"/>
<rect x="430" y="268" width="5" height="24" fill="#22c422"/>
<rect x="431" y="269" width="3" height="22" fill="#32cd32"/>
<rect x="440" y="266" width="1" height="80" fill="#32cd32"/>
<rect x="438" y="291" width="5" height="50" fill="#22c422"/>
<rect x="439" y="292" width="3" height="48" fill="#32cd32"/>
<rect x="448" y="286" width="1" height="71" fill="#ff0000"/>
<rect x="446" y="300" width="5" height="42" fill="#ff0000"/>
<rect x="447" y="301" width="3" height="40" fill="#ff4500"/>
<rect x="456" y="273" width="1" height="60" fill="#32cd32"/>
<rect x="454" y="300" width="5" height="19" fill="#22c422"/>
<rect x="455" y="301" width="3" height="17" fill="#32cd32"/>
<rect x="464" y="294" width="1" height="98" fill="#32cd32"/>
<rect x="462" y="317" width="5" height="49" fill="#22c422"/>
<rect x="463" y="318" width="3" height="47" fill="#32cd32"/>
<rect x="472" y="355" width="1" height="15" fill="#ff0000"/>
<rect x="470" y="359" width="5" height="7" fill="#ff0000"/>
<rect x="471" y="360" width="3" height="5" fill="#ff4500"/>
<rect x="480" y="311" width="1" height="49" fill="#ff0000"/>
<rect x="478" y="328" width="5" height="30" fill="#ff0000"/>
<rect x="479" y="329" width="3" height="28" fill="#ff4500"/>
<rect x="488" y="264" width="1" height="70" fill="#ff0000"/>
<rect x="486" y="301" width="5" height="28" fill="#ff0000"/>
<rect x="487" y="302" width="3" height="26" fill="#ff4500"/>
<rect x="496" y="229" width="1" height="86" fill="#ff0000"/>
<rect x="494" y="246" width="5" height="55" fill="#ff0000"/>
<rect x="495" y="247" width="3" height="53" fill="#ff4500"/>
<rect x="504" y="184" width="1" height="117" fill="#32cd32"/>
<rect x="502" y="246" width="5" height="6" fill="#22c422"/>
<rect x="503" y="247" width="3" height="4" fill="#32cd32"/>
<rect x="512" y="185" width="1" height="99" fill="#32cd32"/>
<rect x="510" y="251" width="5" height="2" fill="#22c422"/>
<rect x="520" y="246" width="1" height="58" fill="#32cd32"/>
<rect x="518" y="252" width="5" height="45" fill="#22c422"/>
<rect x="519" y="253" width="3" height="43" fill="#32cd32"/>
<rect x="528" y="230" width="1" height="71" fill="#ff0000"/>
<rect x="526" y="254" width="5" height="43" fill="#ff0000"/>
<rect x="527" y="255" width="3" height="41" fill="#ff4500"/>
<rect x="536" y="245" width="1" height="30" fill="#32cd32"/>
<rect x="534" y="254" width="5" height="15" fill="#22c422"/>
<rect x="535" y="255" width="3" height="13" fill="#32cd32"/>
<rect x="544" y="247" width="1" height="44" fill="#32cd32"/>
<rect x="542" y="259" width="5" height="2" fill="#22c422"/>
<rect x="552" y="232" width="1" height="90" fill="#32cd32"/>
<rect x="550" y="260" width="5" height="7" fill="#22c422"/>
<rect x="551" y="261" width="3" height="5" fill="#32cd32"/>
<rect x="560" y="197" width="1" height="71" fill="#ff0000"/>
<rect x="558" y="232" width="5" height="35" fill="#ff0000"/>
<rect x="559" y="233" width="3" height="33" fill="#ff4500"/>
<rect x="568" y="220" width="1" height="18" fill="#ff0000"/>
<rect x="566" y="227" width="5" height="5" fill="#ff0000"/>
<rect x="567" y="228" width="3" height="3" fill="#ff4500"/>
<rect x="576" y="203" width="1" height="44" fill="#32cd32"/>
<rect x="574" y="229" width="5" height="6" fill="#22c422"/>
<rect x="575" y="230" width="3" height="4" fill="#32cd32"/>
<rect x="584" y="202" width="1" height="39" fill="#ff0000"/>
<rect x="582" y="206" width="5" height="29" fill="#ff0000"/>
<rect x="583" y="207" width="3" height="27" fill="#ff4500"/>
<rect x="592" y="174" width="1" height="148" fill="#32cd32"/>
<rect x="590" y="208" width="5" height="105" fill="#22c422"/>
<rect x="591" y="209" width="3" height="103" fill="#32cd32"/>
<rect x="600" y="258" width="1" height="97" fill="#ff0000"/>
<rect x="598" y="273" width="5" height="39" fill="#ff0000"/>
<rect x="599" y="274" width="3" height="37" fill="#ff4500"/>
<rect x="608" y="248" width="1" height="71" fill="#ff0000"/>
<rect x="606" y="256" width="5" height="18" fill="#ff0000"/>
<rect x="607" y="257" width="3" height="16" fill="#ff4500"/>
<rect x="616" y="249" width="1" height="25" fill="#32cd32"/>
<rect x="614" y="256" width="5" height="11" fill="#22c422"/>
<rect x="615" y="257" width="3" height="9" fill="#32cd32"/>
<rect x="624" y="197" width="1" height="67" fill="#ff0000"/>
<rect x="622" y="205" width="5" height="58" fill="#ff0000"/>
<rect x="623" y="206" width="3" height="56" fill="#ff4500"/>
<rect x="632" y="185" width="1" height="61" fill="#32cd32"/>
<rect x="630" y="206" width="5" height="21" fill="#22c422"/>
<rect x="631" y="207" width="3" height="19" fill="#32cd32"/>
<rect x="640" y="132" width="1" height="101" fill="#ff0000"/>
<rect x="638" y="161" width="5" height="67" fill="#ff0000"/>
<rect x="639" y="162" width="3" height="65" fill="#ff4500"/>
<rect x="648" y="104" width="1" height="59" fill="#ff0000"/>
<rect x="646" y="149" width="5" height="13" fill="#ff0000"/>
<rect x="647" y="150" width="3" height="11" fill="#ff4500"/>
<rect x="656" y="132" width="1" height="80" fill="#32cd32"/>
<rect x="654" y="149" width="5" height="44" fill="#22c422"/>
<rect x="655" y="150" width="3" height="42" fill="#32cd32"/>
<rect x="664" y="184" width="1" height="23" fill="#32cd32"/>
<rect x="662" y="192" width="5" height="13" fill="#22c422"/>
<rect x="663" y="193" width="3" height="11" fill="#32cd32"/>
<rect x="672" y="188" width="1" height="31" fill="#ff0000"/>
<rect x="670" y="202" width="5" height="3" fill="#ff0000"/>
<rect x="671" y="203" width="3" height="1" fill="#ff4500"/>
<rect x="680" y="180" width="1" height="76" fill="#32cd32"/>
<rect x="678" y="202" width="5" height="28" fill="#22c422"/>
<rect x="679" y="203" width="3" height="26" fill="#32cd32"/>
<rect x="688" y="228" width="1" height="61" fill="#32cd32"/>
<rect x="686" y="228" width="5" height="45" fill="#22c422"/>
<rect x="687" y="229" width="3" height="43" fill="#32cd32"/>
<rect x="696" y="256" width="1" height="40" fill="#32cd32"/>
<rect x="694" y="271" width="5" height="15" fill="#22c422"/>
<rect x="695" y="272" width="3" height="13" fill="#32cd32"/>
<rect x="704" y="257" width="1" height="48" fill="#32cd32"/>
<rect x="702" y="285" width="5" height="14" fill="#22c422"/>
<rect x="703" y="286" width="3" height="12" fill="#32cd32"/>
<rect x="712" y="293" width="1" height="19" fill="#ff0000"/>
<rect x="710" y="295" width="5" height="4" fill="#ff0000"/>
<rect x="711" y="296" width="3" height="2" fill="#ff4500"/>
<rect x="720" y="275" width="1" height="34" fill="#32cd32"/>
<rect x="718" y="300" width="5" height="3" fill="#22c422"/>
<rect x="719" y="301" width="3" height="1" fill="#32cd32"/>
<rect x="728" y="293" width="1" height="36" fill="#32cd32"/>
<rect x="726" y="301" width="5" height="8" fill="#22c422"/>
<rect x="727" y="302" width="3" height="6" fill="#32cd32"/>
<rect x="736" y="276" width="1" height="38" fill="#ff0000"/>
<rect x="734" y="287" width="5" height="22" fill="#ff0000"/>
<rect x="735" y="288" width="3" height="20" fill="#ff4500"/>
<rect x="744" y="272" width="1" height="85" fill="#32cd32"/>
<rect x="742" y="287" width="5" height="25" fill="#22c422"/>
<rect x="743" y="288" width="3" height="23" fill="#32cd32"/>
<rect x="752" y="259" width="1" height="114" fill="#ff0000"/>
<rect x="750" y="269" width="5" height="44" fill="#ff0000"/>
<rect x="751" y="270" width="3" height="42" fill="#ff4500"/>
<rect x="760" y="252" width="1" height="20" fill="#ff0000"/>
<rect x="758" y="253" width="5" height="17" fill="#ff0000"/>
<rect x="759" y="254" width="3" height="15" fill="#ff4500"/>
<rect x="768" y="230" width="1" height="47" fill="#ff0000"/>
<rect x="766" y="232" width="5" height="27" fill="#ff0000"/>
<rect x="767" y="233" width="3" height="25" fill="#ff4500"/>
<rect x="776" y="218" width="1" height="39" fill="#32cd32"/>
<rect x="774" y="231" width="5" height="21" fill="#22c422"/>
<rect x="775" y="232" width="3" height="19" fill="#32cd32"/>
<rect x="784" y="219" width="1" height="42" fill="#ff0000"/>
<rect x="782" y="243" width="5" height="9" fill="#ff0000"/>
<rect x="783" y="244" width="3" height="7" fill="#ff4500"/>
<rect x="792" y="157" width="1" height="98" fill="#ff0000"/>
<rect x="790" y="194" width="5" height="50" fill="#ff0000"/>
<rect x="791" y="195" width="3" height="48" fill="#ff4500"/>
<rect x="800" y="184" width="1" height="50" fill="#32cd32"/>
<rect x="798" y="194" width="5" height="7" fill="#22c422"/>
<rect x="799" y="195" width="3" height="5" fill="#32cd32"/>
<rect x="808" y="182" width="1" height="32" fill="#32cd32"/>
<rect x="806" y="201" width="5" height="9" fill="#22c422"/>
<rect x="807" y="202" width="3" height="7" fill="#32cd32"/>
<rect x="816" y="209" width="1" height="35" fill="#32cd32"/>
<rect x="814" y="215" width="5" height="25" fill="#22c422"/>
<rect x="815" y="216" width="3" height="23" fill="#32cd32"/>
<rect x="824" y="228" width="1" height="34" fill="#32cd32"/>
<rect x="822" y="239" width="5" height="22" fill="#22c422"/>
<rect x="823" y="240" width="3" height="20" fill="#32cd32"/>
<rect x="832" y="250" width="1" height="41" fill="#32cd32"/>
<rect x="830" y="260" width="5" height="29" fill="#22c422"/>
<rect x="831" y="261" width="3" height="27" fill="#32cd32"/>
<rect x="840" y="283" width="1" height="57" fill="#32cd32"/>
<rect x="838" y="288" width="5" height="21" fill="#22c422"/>
<rect x="839" y="289" width="3" height="19" fill="#32cd32"/>
<rect x="848" y="305" width="1" height="36" fill="#32cd32"/>
<rect x="846" y="308" width="5" height="28" fill="#22c422"/>
<rect x="847" y="309" width="3" height="26" fill="#32cd32"/>
<rect x="856" y="331" width="1" height="12" fill="#32cd32"/>
<rect x="854" y="335" width="5" height="6" fill="#22c422"/>
<rect x="855" y="336" width="3" height="4" fill="#32cd32"/>
<rect x="864" y="334" width="1" height="56" fill="#32cd32"/>
<rect x="862" y="344" width="5" height="42" fill="#22c422"/>
<rect x="863" y="345" width="3" height="40" fill="#32cd32"/>
<rect x="872" y="359" width="1" height="45" fill="#ff0000"/>
<rect x="870" y="364" width="5" height="22" fill="#ff0000"/>
<rect x="871" y="365" width="3" height="20" fill="#ff4500"/>
<rect x="880" y="322" width="1" height="60" fill="#32cd32"/>
<rect x="878" y="363" width="5" height="13" fill="#22c422"/>
<rect x="879" y="364" width="3" height="11" fill="#32cd32"/>
<rect x="888" y="353" width="1" height="58" fill="#32cd32"/>
<rect x="886" y="375" width="5" height="11" fill="#22c422"/>
<rect x="887" y="376" width="3" height="9" fill="#32cd32"/>
<rect x="896" y="360" width="1" height="66" fill="#32cd32"/>
<rect x="894" y="385" width="5" height="14" fill="#22c422"/>
<rect x="895" y="386" width="3" height="12" fill="#32cd32"/>
<rect x="904" y="356" width="1" height="45" fill="#ff0000"/>
<rect x="902" y="367" width="5" height="31" fill="#ff0000"/>
<rect x="903" y="368" width="3" height="29" fill="#ff4500"/>
<rect x="912" y="359" width="1" height="14" fill="#ff0000"/>
<rect x="910" y="360" width="5" height="13" fill="#ff0000"/>
<rect x="911" y="361" width="3" height="11" fill="#ff4500"/>
<rect x="738" y="311" width="273" height="2" fill="#f82020"/>
<rect x="841" y="346" width="170" height="2" fill="#88c800"/>
<rect x="740" y="426" width="268" height="2" fill="#2080dc"/>
<rect x="7" y="33" width="1152" height="1" fill="#000"/>
<rect x="7" y="454" width="1152" height="1" fill="#000"/>
<rect x="7" y="33" width="1" height="422" fill="#000"/>
<rect x="1158" y="33" width="1" height="422" fill="#000"/>
<rect x="7" y="456" width="1152" height="1" fill="#000"/>
<rect x="7" y="533" width="1152" height="1" fill="#000"/>
<rect x="7" y="456" width="1" height="78" fill="#000"/>
<rect x="1158" y="456" width="1" height="78" fill="#000"/>
<rect x="7" y="535" width="1152" height="1" fill="#000"/>
<rect x="7" y="615" width="1152" height="1" fill="#000"/>
<rect x="7" y="535" width="1" height="81" fill="#000"/>
<rect x="1158" y="535" width="1" height="81" fill="#000"/>
<rect x="1160" y="355" width="41" height="11" fill="#000"/>
<path d="M11 40h7v1h-7zM12 41h5v1h-5zM13 42h3v1h-3zM14 43h1v1h-1z" fill="#000"/>
<rect x="0" y="636" width="1206" height="27" fill="#f0f0f0"/>
<rect x="5" y="636" width="1200" height="1" fill="#e3e3e3"/>
<rect x="5" y="637" width="1200" height="1" fill="#fafafa"/>
<rect x="3" y="637" width="1" height="20" fill="#a0a0a0"/>
<rect x="4" y="637" width="1" height="20" fill="#696969"/>
<rect x="4" y="638" width="5" height="1" fill="#000"/>
<rect x="113" y="638" width="1093" height="1" fill="#000"/>
<rect x="113" y="639" width="1092" height="1" fill="#fff"/>
<rect x="10" y="637" width="102" height="19" fill="#fff"/>
<rect x="9" y="638" width="1" height="19" fill="#000"/>
<rect x="112" y="638" width="1" height="19" fill="#000"/>
<rect x="9" y="656" width="104" height="1" fill="#000"/>
<rect x="0" y="658" width="1206" height="1" fill="#fff"/>
<rect x="0" y="661" width="1206" height="1" fill="#d0d0d0"/>
<rect x="0" y="662" width="1206" height="1" fill="#a0a0a0"/>
<rect x="217" y="641" width="1" height="14" fill="#505050"/>
<rect x="317" y="641" width="1" height="14" fill="#505050"/>
<rect x="421" y="641" width="1" height="14" fill="#505050"/>
<rect x="525" y="641" width="1" height="14" fill="#505050"/>
<rect x="609" y="641" width="1" height="14" fill="#505050"/>
<rect x="701" y="641" width="1" height="14" fill="#505050"/>
<rect x="805" y="641" width="1" height="14" fill="#505050"/>
<rect x="893" y="641" width="1" height="14" fill="#505050"/>
<rect x="997" y="641" width="1" height="14" fill="#505050"/>
<rect x="1065" y="641" width="1" height="14" fill="#505050"/>
<rect x="1157" y="641" width="1" height="14" fill="#505050"/>
<path d="M1174 647h1v1h-1zM1175 646h1v3h-1zM1176 645h1v5h-1zM1177 644h1v7h-1z" fill="#9c9c9c"/>
<path d="M1193 644h1v7h-1zM1194 645h1v5h-1zM1195 646h1v3h-1zM1196 647h1v1h-1z" fill="#000"/>
</svg>
<div class="tb" style="left:7.3px;">M30</div>
<div class="tb" style="left:38px;">H1</div>
<div class="tb" style="left:65.8px;">H4</div>
<div class="tb" style="left:94px;">D1</div>
<div class="tb" style="left:122px;">W1</div>
<div class="tb" style="left:148.6px;">MN</div>
<div class="t" style="left:23.3px;top:36.4px;font-size:9.6px">EURUSD,Daily</div>
<div class="t" style="left:93.2px;top:36.5px;">1.12895</div>
<div class="t" style="left:129.4px;top:36.5px;">1.13024</div>
<div class="t" style="left:165.60000000000002px;top:36.5px;">1.12886</div>
<div class="t" style="left:201.8px;top:36.5px;">1.13014</div>
<div class="t" style="left:11.7px;top:461.5px;"><span style="letter-spacing:.5px">MACD</span>(12,26,9) -0.003473 -0.002660</div>
<div class="t" style="left:11.7px;top:540.3px;">RSI(14) 40.6895</div>
<div class="t ax" style="top:50.8px;">1.16200</div>
<div class="t ax" style="top:83.8px;">1.15850</div>
<div class="t ax" style="top:116.8px;">1.15510</div>
<div class="t ax" style="top:149.8px;">1.15160</div>
<div class="t ax" style="top:182.8px;">1.14820</div>
<div class="t ax" style="top:215.8px;">1.14480</div>
<div class="t ax" style="top:248.8px;">1.14130</div>
<div class="t ax" style="top:281.8px;">1.13790</div>
<div class="t ax" style="top:314.8px;">1.13440</div>
<div class="t ax" style="top:347.8px;">1.13100</div>
<div class="t ax" style="top:380.8px;">1.12750</div>
<div class="t ax" style="top:413.8px;">1.12410</div>
<div class="t ax" style="top:446.8px;">1.12070</div>
<div class="t" style="left:1164px;top:356.1px;color:#fff;-webkit-text-stroke:0.1px #fff">1.13014</div>
<div class="t" style="left:1161.6px;top:459.3px;">0.003216</div>
<div class="t" style="left:1161.6px;top:478.3px;">0.00</div>
<div class="t" style="left:1161.8px;top:522.3px;">-0.006485</div>
<div class="t" style="left:1161.5px;top:538.1px;">100</div>
<div class="t" style="left:1161.2px;top:556.5px;">70</div>
<div class="t" style="left:1161.2px;top:587.3px;">30</div>
<div class="t" style="left:1161.6px;top:604.2px;">0</div>
<div class="t dt" style="left:7.5px;">9 Oct 2018</div>
<div class="t dt" style="left:71.5px;">18 Oct 2018</div>
<div class="t dt" style="left:135.5px;">27 Oct 2018</div>
<div class="t dt" style="left:199.5px;">6 Nov 2018</div>
<div class="t dt" style="left:263.5px;">15 Nov 2018</div>
<div class="t dt" style="left:327.5px;">24 Nov 2018</div>
<div class="t dt" style="left:391.5px;">4 Dec 2018</div>
<div class="t dt" style="left:455.5px;">13 Dec 2018</div>
<div class="t dt" style="left:519.5px;">22 Dec 2018</div>
<div class="t dt" style="left:583.5px;">1 Jan 2019</div>
<div class="t dt" style="left:647.5px;">10 Jan 2019</div>
<div class="t dt" style="left:711.5px;">19 Jan 2019</div>
<div class="t dt" style="left:775.5px;">29 Jan 2019</div>
<div class="t dt" style="left:839.5px;">7 Feb 2019</div>
<div class="t dt" style="left:903.5px;">16 Feb 2019</div>
<div class="tab" style="left:21.2px;color:#000;-webkit-text-stroke:0.2px #000">EURUSD,Daily</div>
<div class="tab" style="left:124.2px;">AUDUSD,Daily</div>
<div class="tab" style="left:226.5px;">USDCHF,Daily</div>
<div class="tab" style="left:327.7px;">USDCAD,Daily</div>
<div class="tab" style="left:430.4px;">USDCNH,Daily</div>
<div class="tab" style="left:534.7px;">USDJPY,H1</div>
<div class="tab" style="left:619.8px;">XAUUSD,H4</div>
<div class="tab" style="left:712.6px;">GBPUSD,Daily</div>
<div class="tab" style="left:816.2px;">SP500,M15</div>
<div class="tab" style="left:904.9px;">GBPUSD,Daily</div>
<div class="tab" style="left:1006.7px;">DJ30,H4</div>
<div class="tab" style="left:1075px;">TECH100,H1</div>
</body></html>
